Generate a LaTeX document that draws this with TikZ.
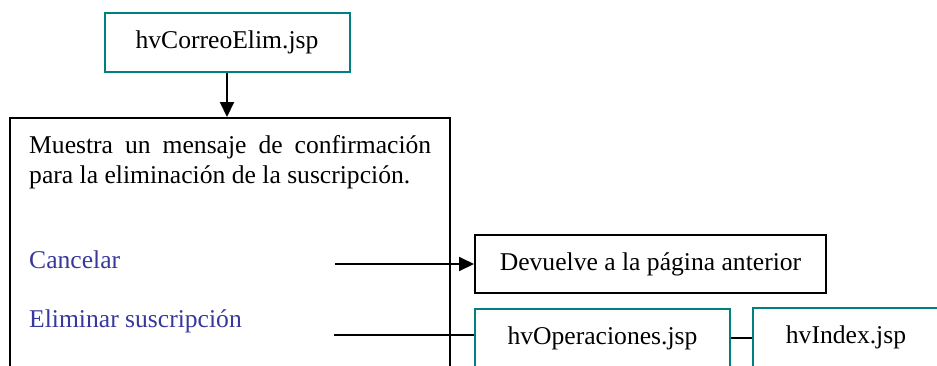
\documentclass[tikz,border=0pt]{standalone}
\usepackage{fontspec}
\setmainfont{Liberation Serif}
\usetikzlibrary{arrows.meta}
\definecolor{boxteal}{RGB}{0,128,128}
\definecolor{linkblue}{RGB}{56,56,156}
\begin{document}
\begin{tikzpicture}[x=1pt,y=-1pt,
  every node/.style={font=\fontsize{25.6}{30}\selectfont},
  tealbox/.style={draw=boxteal,line width=2pt,rectangle,inner sep=0pt,minimum height=59pt},
  blackbox/.style={draw=black,line width=2pt,rectangle,inner sep=0pt},
  txt/.style={anchor=base west,inner sep=0pt},
  link/.style={txt,text=linkblue},
  conn/.style={draw=black,line width=2pt},
  arr/.style={conn,-{Triangle[length=15pt,width=14pt]}}]
\useasboundingbox (0,0) rectangle (937,365);
\clip (0,0) rectangle (937,365);
\node[tealbox,minimum width=245pt] (top) at (227,42.5) {hvCorreoElim.jsp};
\node[blackbox,minimum width=440pt,minimum height=320pt] (main) at (230,278) {};
\node[txt] (l1) at (29,153) {\hbox to 402pt{Muestra\hfill un\hfill mensaje\hfill de\hfill confirmación}};
\node[txt] (l2) at (29,183) {para la eliminación de la suscripción.};
\node[link] (cancel) at (29,268) {Cancelar};
\node[link] (elim) at (29,327) {Eliminar suscripción};
\node[blackbox,minimum width=351pt,minimum height=58pt] (back) at (650.5,264) {Devuelve a la página anterior};
\node[tealbox,minimum width=255pt] (ops) at (602.5,338) {hvOperaciones.jsp};
\node[tealbox,minimum width=186pt] (idx) at (846,337) {hvIndex.jsp};
\coordinate (c1) at (335,264);
\coordinate (c2) at (334,335);
\draw[arr] (top.south) -- (top.south |- main.north);
\draw[arr] (c1) -- (back.west);
\draw[conn] (c2) -- (c2 -| ops.west);
\draw[conn] (ops.east) -- (ops.east -| idx.west);
\end{tikzpicture}
\end{document}
